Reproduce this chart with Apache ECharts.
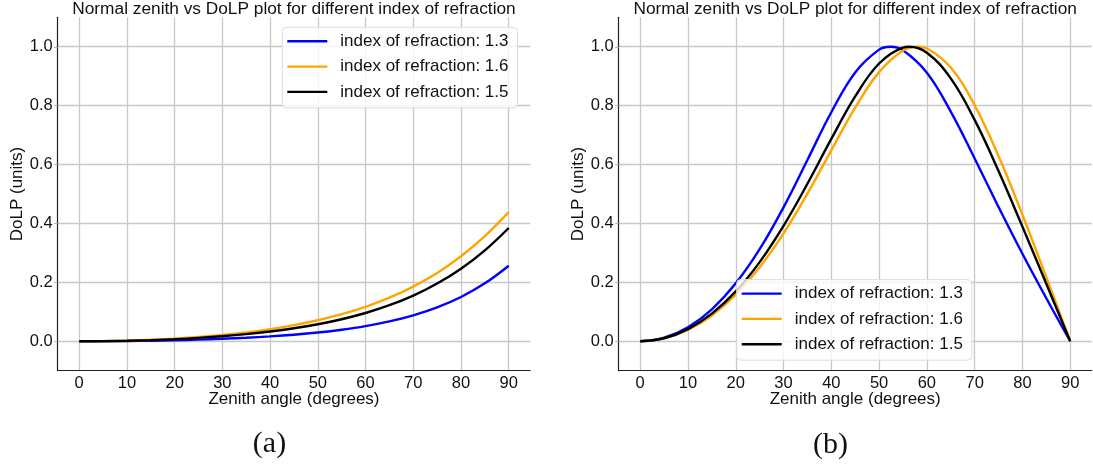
<!DOCTYPE html>
<html>
<head>
<meta charset="utf-8">
<script src="https://cdn.jsdelivr.net/npm/echarts@6/dist/echarts.min.js"></script>
<style>
html, body { margin: 0; padding: 0; background: #fff; }
#chart { width: 1093px; height: 465px; }
</style>
</head>
<body>
<div id="chart"></div>
<script>
// zenith angles (degrees) and tick values
const zenithDeg = [0, 5, 10, 15, 20, 25, 30, 35, 40, 45, 50, 55, 60, 65, 70, 75, 80, 85, 90];
const xTicks = [0, 10, 20, 30, 40, 50, 60, 70, 80, 90];
const yTicks = [0, 0.2, 0.4, 0.6, 0.8, 1.0];

// (a) diffuse DoLP
const diffuse13 = [0, 0.0002, 0.0008, 0.0019, 0.0034, 0.0055, 0.0083, 0.0119, 0.0165, 0.0223, 0.0297, 0.0392, 0.0514, 0.0673, 0.0880, 0.1150, 0.1504, 0.1966, 0.2565];
const diffuse16 = [0, 0.0005, 0.0022, 0.0049, 0.0090, 0.0144, 0.0213, 0.0301, 0.0411, 0.0546, 0.0713, 0.0918, 0.1169, 0.1478, 0.1857, 0.2321, 0.2886, 0.3569, 0.4383];
const diffuse15 = [0, 0.0004, 0.0017, 0.0039, 0.0071, 0.0114, 0.0170, 0.0241, 0.0329, 0.0440, 0.0577, 0.0748, 0.0959, 0.1223, 0.1551, 0.1959, 0.2464, 0.3087, 0.3846];

// (b) specular DoLP, each with its peak angle added
const specAngles13 = [0, 5, 10, 15, 20, 25, 30, 35, 40, 45, 50, 52.4, 55, 60, 65, 70, 75, 80, 85, 90];
const specular13 = [0, 0.0118, 0.0475, 0.1086, 0.1966, 0.3126, 0.4548, 0.6156, 0.7775, 0.9129, 0.9903, 1.0, 0.9880, 0.9118, 0.7798, 0.6207, 0.4561, 0.2970, 0.1459, 0];
const specAngles16 = [0, 5, 10, 15, 20, 25, 30, 35, 40, 45, 50, 55, 58, 60, 65, 70, 75, 80, 85, 90];
const specular16 = [0, 0.0095, 0.0385, 0.0877, 0.1583, 0.2513, 0.3666, 0.5015, 0.6484, 0.7929, 0.9138, 0.9872, 1.0, 0.9941, 0.9292, 0.8015, 0.6289, 0.4297, 0.2173, 0];
const specAngles15 = [0, 5, 10, 15, 20, 25, 30, 35, 40, 45, 50, 55, 56.3, 60, 65, 70, 75, 80, 85, 90];
const specular15 = [0, 0.0102, 0.0411, 0.0937, 0.1692, 0.2688, 0.3919, 0.5347, 0.6871, 0.8315, 0.9432, 0.9974, 1.0, 0.9798, 0.8925, 0.7516, 0.5781, 0.3892, 0.1951, 0];

const names = ['index of refraction: 1.3', 'index of refraction: 1.6', 'index of refraction: 1.5'];
const colors = ['#0000ff', '#ffa500', '#000000'];
const titleText = 'Normal zenith vs DoLP plot for different index of refraction';

const sans = '"Liberation Sans", Arial, sans-serif';
const serif = '"Liberation Serif", "Times New Roman", serif';

function pairs(xs, ys) {
  return xs.map((x, i) => [x, ys[i]]);
}

function xAxisFor(gridIndex) {
  return {
    type: 'value', gridIndex: gridIndex, min: -4.5, max: 94.5,
    axisLine: { show: true, onZero: false, lineStyle: { color: '#222', width: 1.2 } },
    axisTick: { show: false, customValues: xTicks },
    axisLabel: { customValues: xTicks, fontSize: 16.5, fontFamily: sans, color: '#111', margin: 4 },
    splitLine: { show: true, lineStyle: { color: '#c8c8c8', width: 1.3 } }
  };
}

function yAxisFor(gridIndex) {
  return {
    type: 'value', gridIndex: gridIndex, min: -0.1, max: 1.1,
    axisLine: { show: true, onZero: false, lineStyle: { color: '#222', width: 1.2 } },
    axisTick: { show: true, length: 3.5, customValues: yTicks, lineStyle: { color: '#b0b0b0' } },
    axisLabel: { customValues: yTicks, fontSize: 16.5, fontFamily: sans, color: '#111', margin: 5,
      formatter: v => v.toFixed(1) },
    splitLine: { show: true, lineStyle: { color: '#c8c8c8', width: 1.3 } }
  };
}

function lineSeries(i, gridIndex, data) {
  return {
    name: names[i], type: 'line', xAxisIndex: gridIndex, yAxisIndex: gridIndex,
    data: data, smooth: 0.4, symbol: 'none',
    lineStyle: { color: colors[i], width: 2.4 },
    itemStyle: { color: colors[i] }
  };
}

function legendAt(left, top) {
  return {
    left: left, top: top, orient: 'vertical',
    data: names,
    icon: 'rect',
    itemWidth: 40, itemHeight: 2.4, itemGap: 5.3,
    padding: [4, 9, 6, 5],
    backgroundColor: 'rgba(255,255,255,0.8)',
    borderColor: '#dcdcdc', borderWidth: 1, borderRadius: 4,
    textStyle: { fontSize: 17, fontFamily: sans, color: '#111', lineHeight: 20, padding: [0, 0, 0, 8] }
  };
}

function textAt(x, y, text, font, rotation) {
  return {
    type: 'text', x: x, y: y, rotation: rotation || 0,
    style: { text: text, font: font, fill: '#111', textAlign: 'center', textVerticalAlign: 'middle',
      align: 'center', verticalAlign: 'middle' }
  };
}

const chart = echarts.init(document.getElementById('chart'));
chart.setOption({
  animation: false,
  grid: [
    { left: 57.7, top: 17.3, width: 472.5, height: 353.4 },
    { left: 618.7, top: 17.3, width: 473, height: 353.4 }
  ],
  xAxis: [xAxisFor(0), xAxisFor(1)],
  yAxis: [yAxisFor(0), yAxisFor(1)],
  legend: [legendAt(282.3, 27.3), legendAt(736.7, 279.6)],
  series: [
    lineSeries(0, 0, pairs(zenithDeg, diffuse13)),
    lineSeries(1, 0, pairs(zenithDeg, diffuse16)),
    lineSeries(2, 0, pairs(zenithDeg, diffuse15)),
    lineSeries(0, 1, pairs(specAngles13, specular13)),
    lineSeries(1, 1, pairs(specAngles16, specular16)),
    lineSeries(2, 1, pairs(specAngles15, specular15))
  ],
  graphic: [
    textAt(294, 9, titleText, '17.3px ' + sans),
    textAt(855.2, 9, titleText, '17.3px ' + sans),
    textAt(294, 399.5, 'Zenith angle (degrees)', '17px ' + sans),
    textAt(855.2, 399.5, 'Zenith angle (degrees)', '17px ' + sans),
    textAt(17, 194, 'DoLP (units)', '17px ' + sans, Math.PI / 2),
    textAt(578, 194, 'DoLP (units)', '17px ' + sans, Math.PI / 2),
    textAt(269.5, 444, '(a)', '30px ' + serif),
    textAt(830.5, 445, '(b)', '30px ' + serif)
  ]
});
</script>
</body>
</html>
